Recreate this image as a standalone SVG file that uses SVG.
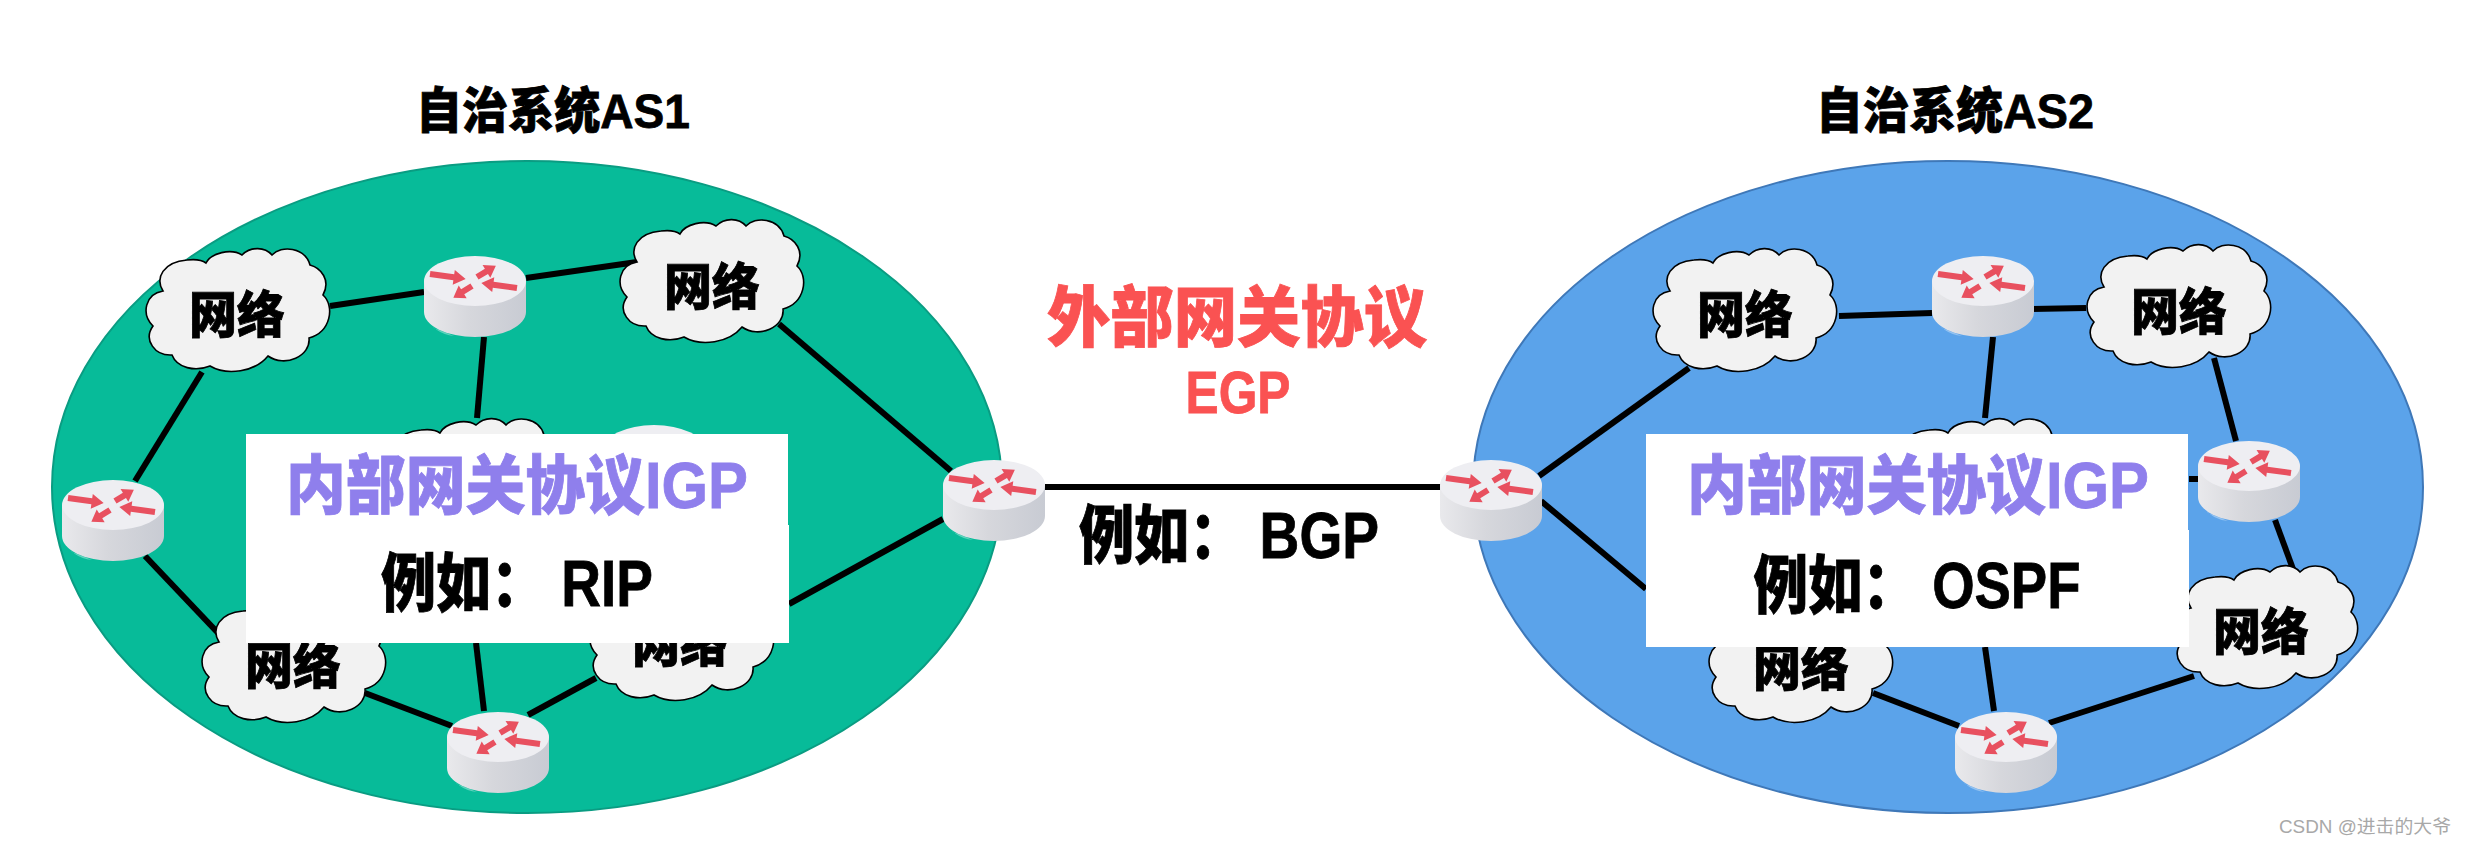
<svg xmlns="http://www.w3.org/2000/svg" xmlns:xlink="http://www.w3.org/1999/xlink" width="2466" height="842" viewBox="0 0 2466 842">
<style>
text{font-family:"Liberation Sans","Noto Sans CJK SC",sans-serif;font-weight:900;text-anchor:middle;fill:#000;stroke:#000;stroke-width:.8}
.as{stroke-width:2}
.link line{stroke:#000;stroke-width:6;stroke-linecap:butt}
.net{font-size:50px}
.igp{font-size:64px;fill:#8f7fec;stroke:#8f7fec}
.ex{font-size:64px}
.title{font-size:49px}
.red{fill:#fa5252;stroke:#fa5252}
.box{fill:#fff}
.wm{font-size:18px;font-weight:400;fill:#a8a8a8;stroke:none}
</style>
<defs>
<linearGradient id="body" x1="0" x2="1" y1="0" y2="0"><stop offset="0" stop-color="#e9e9ec"/><stop offset=".45" stop-color="#d6d7dc"/><stop offset="1" stop-color="#c8cbd3"/></linearGradient>
<path id="arL" d="M0-3H24V-7.5L36 0 24 7.5V3H0Z" fill="#e8505f"/>
<path id="arS" d="M0-3H11V-7.5L22 0 11 7.5V3H0Z" fill="#e8505f"/>
<g id="router">
<path d="M2 60Q10 78 30 80L10 72Z" fill="#fff" opacity=".35"/>
<path d="M0 25V56A51 25 0 0 0 102 56V25Z" fill="url(#body)"/>
<ellipse cx="51" cy="25" rx="51" ry="25" fill="#eeeef2"/>
<use xlink:href="#arL" href="#arL" transform="translate(6,18) rotate(8)"/>
<use xlink:href="#arS" href="#arS" transform="translate(53,21) rotate(-31)"/>
<use xlink:href="#arL" href="#arL" transform="translate(93,32) rotate(188)"/>
<use xlink:href="#arS" href="#arS" transform="translate(48,30) rotate(148)"/>
</g>
<path id="cloud" fill="#f2f2f2" stroke="#000" stroke-width="1.6" d="M18 43C10 30 18 14 42 12C50 11 57 12 61 15C66 5 86 0 97 7C106-2 120-1 127 7C136-3 160-1 165 17C176 20 186 32 178 47C190 58 186 84 164 90C166 108 140 120 123 108C110 124 82 128 65 118C50 124 32 120 27 107C10 108-2 92 8 78C-4 66 0 46 18 43Z"/>
</defs>
<rect width="2466" height="842" fill="#fff"/>
<ellipse id="as1" class="as" cx="527" cy="487" rx="475" ry="326" fill="#07bb99" stroke="#0a9c82"/>
<ellipse id="as2" class="as" cx="1948" cy="487" rx="475" ry="326" fill="#5ba3ea" stroke="#3f78b8"/>
<g id="connectors" class="link">
<line x1="330" y1="306" x2="424" y2="292"/>
<line x1="526" y1="278" x2="637" y2="262"/>
<line x1="484" y1="337" x2="477" y2="418"/>
<line x1="202" y1="372" x2="135" y2="481"/>
<line x1="145" y1="556" x2="219" y2="634"/>
<line x1="365" y1="693" x2="452" y2="726"/>
<line x1="476" y1="643" x2="484" y2="711"/>
<line x1="528" y1="715" x2="596" y2="678"/>
<line x1="779" y1="324" x2="951" y2="471"/>
<line x1="943" y1="519" x2="789" y2="604"/>
<line x1="1045" y1="487" x2="1441" y2="487"/>
<line x1="1539" y1="476" x2="1689" y2="368"/>
<line x1="1541" y1="501" x2="1646" y2="589"/>
<line x1="1839" y1="316" x2="1932" y2="313"/>
<line x1="2032" y1="309" x2="2086" y2="308"/>
<line x1="1993" y1="337" x2="1985" y2="418"/>
<line x1="2214" y1="358" x2="2236" y2="441"/>
<line x1="2189" y1="479" x2="2198" y2="479"/>
<line x1="2275" y1="520" x2="2293" y2="569"/>
<line x1="2194" y1="676" x2="2049" y2="723"/>
<line x1="1994" y1="711" x2="1985" y2="647"/>
<line x1="1873" y1="693" x2="1959" y2="726"/>
</g>
<g id="as1-net1"><use href="#cloud" x="145" y="248"/><text class="net" x="237" y="333" textLength="96" lengthAdjust="spacingAndGlyphs">网络</text></g>
<g id="as1-net2"><use href="#cloud" x="619" y="219"/><text class="net" x="712" y="305" textLength="96" lengthAdjust="spacingAndGlyphs">网络</text></g>
<g id="as1-net3"><use href="#cloud" x="201" y="599"/><text class="net" x="293" y="684" textLength="96" lengthAdjust="spacingAndGlyphs">网络</text></g>
<g id="as1-net4"><use href="#cloud" x="589" y="577"/><text class="net" x="680" y="662" textLength="96" lengthAdjust="spacingAndGlyphs">网络</text></g>
<g id="as1-net5"><use href="#cloud" x="379" y="418"/></g>
<g id="as1-r1"><use href="#router" x="424" y="256"/></g>
<g id="as1-r2"><use href="#router" x="62" y="480"/></g>
<g id="as1-r3"><use href="#router" x="943" y="460"/></g>
<g id="as1-r4"><use href="#router" x="447" y="712"/></g>
<g id="as1-r5"><use href="#router" x="603" y="425"/></g>
<g id="as2-net1"><use href="#cloud" x="1652" y="248"/><text class="net" x="1745" y="333" textLength="96" lengthAdjust="spacingAndGlyphs">网络</text></g>
<g id="as2-net2"><use href="#cloud" x="2086" y="244"/><text class="net" x="2179" y="330" textLength="96" lengthAdjust="spacingAndGlyphs">网络</text></g>
<g id="as2-net3"><use href="#cloud" x="2173" y="565"/><text class="net" x="2261" y="650" textLength="96" lengthAdjust="spacingAndGlyphs">网络</text></g>
<g id="as2-net4"><use href="#cloud" x="1708" y="599"/><text class="net" x="1801" y="686" textLength="96" lengthAdjust="spacingAndGlyphs">网络</text></g>
<g id="as2-net5"><use href="#cloud" x="1887" y="418"/></g>
<g id="as2-r1"><use href="#router" x="1932" y="256"/></g>
<g id="as2-r2"><use href="#router" x="1440" y="460"/></g>
<g id="as2-r3"><use href="#router" x="2198" y="441"/></g>
<g id="as2-r4"><use href="#router" x="1955" y="712"/></g>
<g id="igp1">
<rect class="box" x="246" y="434" width="542" height="92"/><rect class="box" x="246" y="525" width="543" height="118"/>
<text class="igp" x="517" y="508" textLength="462" lengthAdjust="spacingAndGlyphs">内部网关协议IGP</text>
<text class="ex" x="517" y="606" textLength="272" lengthAdjust="spacingAndGlyphs">例如： RIP</text>
</g>
<g id="igp2">
<rect class="box" x="1646" y="434" width="542" height="96"/><rect class="box" x="1646" y="530" width="543" height="117"/>
<text class="igp" x="1918" y="508" textLength="462" lengthAdjust="spacingAndGlyphs">内部网关协议IGP</text>
<text class="ex" x="1917" y="608" textLength="327" lengthAdjust="spacingAndGlyphs">例如： OSPF</text>
</g>
<text class="title" x="553" y="128" textLength="274" lengthAdjust="spacingAndGlyphs">自治系统AS1</text>
<text class="title" x="1955" y="128" textLength="278" lengthAdjust="spacingAndGlyphs">自治系统AS2</text>
<text class="red" font-size="66" x="1237" y="341" textLength="380" lengthAdjust="spacingAndGlyphs">外部网关协议</text>
<text class="red" font-size="60" x="1238" y="413" textLength="105" lengthAdjust="spacingAndGlyphs">EGP</text>
<text class="ex" x="1229" y="558" textLength="300" lengthAdjust="spacingAndGlyphs">例如： BGP</text>
<text class="wm" x="2365" y="833" textLength="172" lengthAdjust="spacingAndGlyphs">CSDN @进击的大爷</text>
</svg>
